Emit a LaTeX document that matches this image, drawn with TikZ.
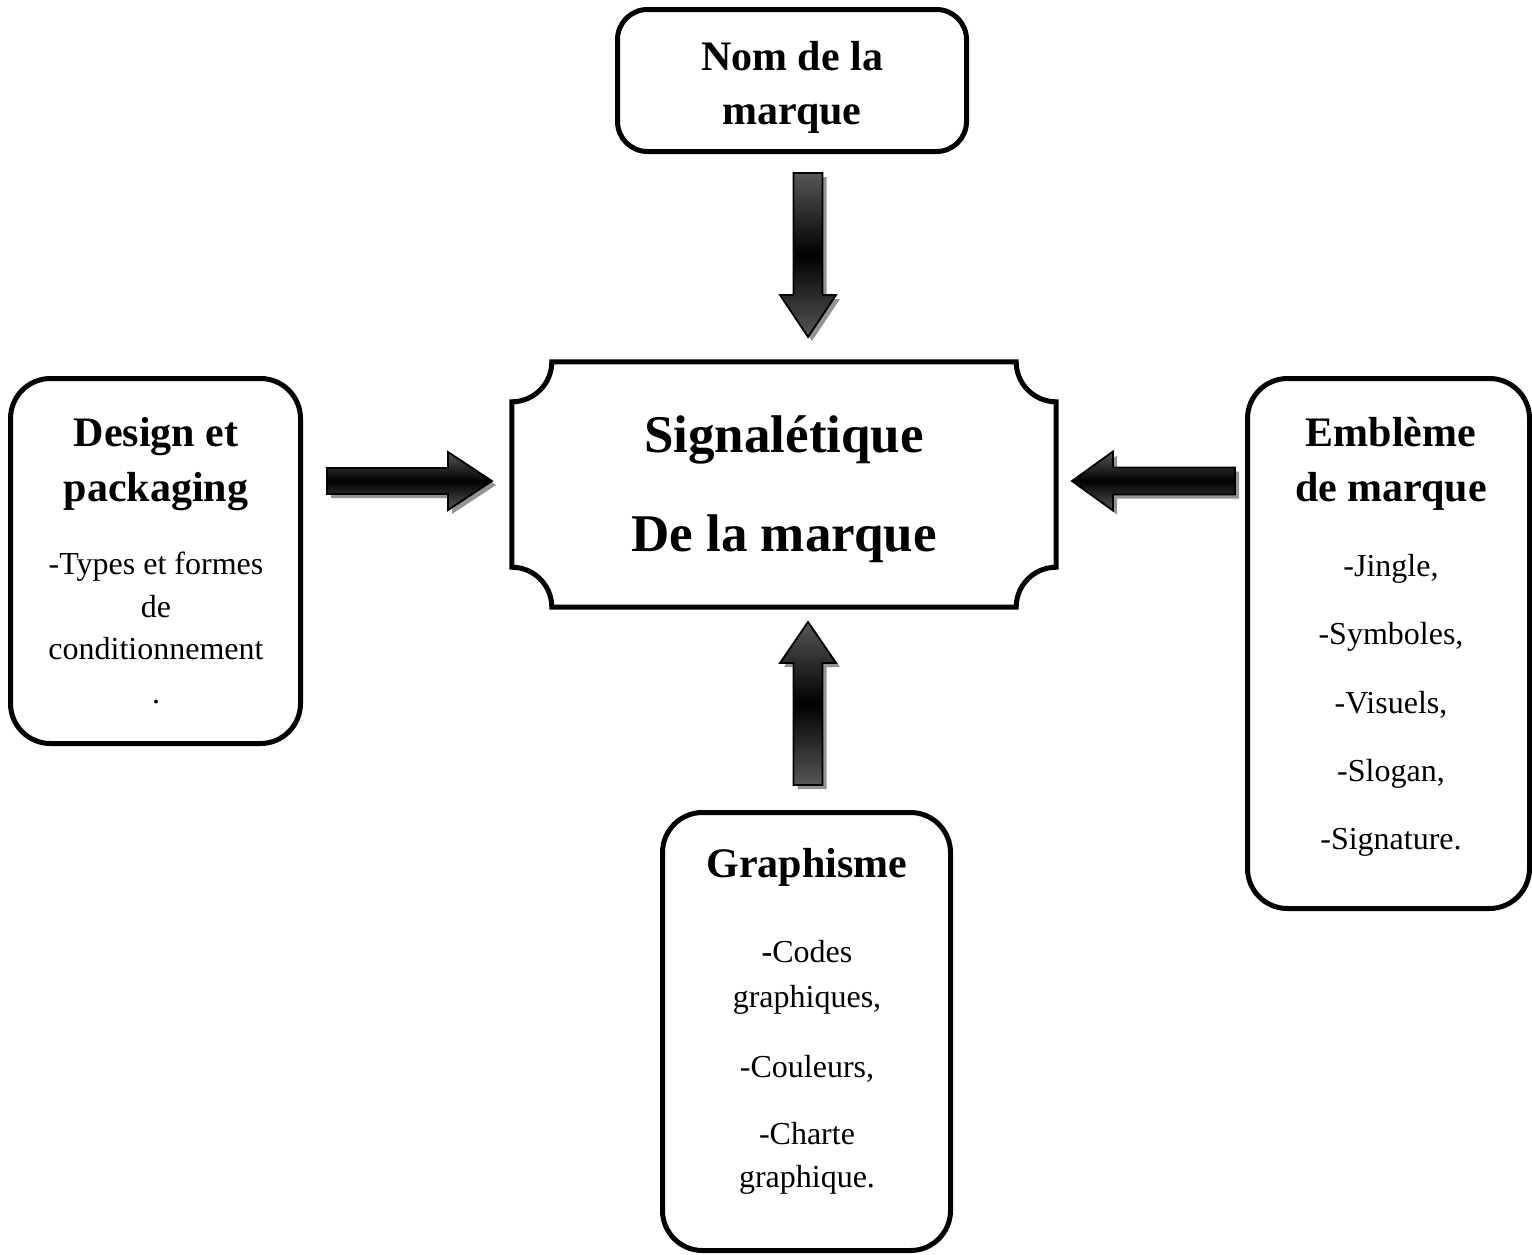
\documentclass[tikz,border=0pt]{standalone}
\usepackage{fontspec}
\setmainfont{Liberation Serif}
\usetikzlibrary{calc,shadows}
\begin{document}
\begin{tikzpicture}[x=1pt,y=-1pt,
 box/.style={draw=black, line width=5pt, rounded corners=40pt, inner sep=0pt},
 plaque/.style={draw=black, line width=5pt, line join=miter},
 head/.style={font=\fontsize{42}{50}\selectfont\bfseries, anchor=base, inner sep=0pt},
 big/.style={font=\fontsize{53}{60}\selectfont\bfseries, anchor=base, inner sep=0pt},
 body/.style={font=\fontsize{32}{38}\selectfont, anchor=base, inner sep=0pt},
 blockarrow/.style={draw=black, line width=1.8pt, line join=miter,
   top color=black!66, bottom color=black!66, middle color=black,
   drop shadow={shadow xshift=4pt, shadow yshift=-4pt, fill=black!42, opacity=1}}
]
\useasboundingbox (0,0) rectangle (1532,1254);

% boxes
\node[box, rounded corners=30pt, minimum width=349pt, minimum height=142pt] (nom) at (792,80.5) {};
\node[box, minimum width=290pt, minimum height=365pt] (des) at (155.5,561) {};
\node[box, minimum width=282pt, minimum height=530pt] (emb) at (1388.5,643.5) {};
\node[box, minimum width=288pt, minimum height=438pt] (gra) at (806.5,1031.5) {};
\node[minimum width=544pt, minimum height=245pt, inner sep=0pt] (sig) at (784,484.5) {};

% central plaque with concave corners
\draw[plaque] ($(sig.north west)+(40,0)$) -- ($(sig.north east)+(-40,0)$)
  arc[start angle=180, end angle=90, radius=40]
  -- ($(sig.south east)+(0,-40)$)
  arc[start angle=270, end angle=180, radius=40]
  -- ($(sig.south west)+(40,0)$)
  arc[start angle=0, end angle=-90, radius=40]
  -- ($(sig.north west)+(0,40)$)
  arc[start angle=90, end angle=0, radius=40]
  -- cycle;

% texts
\node[head] (nom1) at (792,70) {Nom de la};
\node[head] (nom2) at (792,124) {marque};

\node[big] (sig1) at (784,452) {Signalétique};
\node[big] (sig2) at (784,551) {De la marque};

\node[head] (des1) at (156,446) {Design et};
\node[head] (des2) at (156,501) {packaging};
\node[body] (des3) at (156,574) {-Types et formes};
\node[body] (des4) at (156,617) {de};
\node[body] (des5) at (156,659) {conditionnement};
\node[body] (des6) at (156,703) {.};

\node[head] (emb1) at (1391,446) {Emblème};
\node[head] (emb2) at (1391,501) {de marque};
\node[body] (emb3) at (1391,576) {-Jingle,};
\node[body] (emb4) at (1391,644) {-Symboles,};
\node[body] (emb5) at (1391,713) {-Visuels,};
\node[body] (emb6) at (1391,781) {-Slogan,};
\node[body] (emb7) at (1391,849) {-Signature.};

\node[head] (gra1) at (807,877) {Graphisme};
\node[body] (gra2) at (807,962) {{\bfseries -}Codes};
\node[body] (gra3) at (807,1007) {graphiques,};
\node[body] (gra4) at (807,1077) {-Couleurs,};
\node[body] (gra5) at (807,1144) {-Charte};
\node[body] (gra6) at (807,1187) {graphique.};

% block arrows
\coordinate (a1s) at (808,173);
\coordinate (a1e) at (808,337);
\path[blockarrow] ($(a1s)+(-14.5,0)$) -- ($(a1s)+(14.5,0)$) -- ($(a1e)+(14.5,-42)$)
  -- ($(a1e)+(28,-42)$) -- (a1e) -- ($(a1e)+(-28,-42)$) -- ($(a1e)+(-14.5,-42)$) -- cycle;

\coordinate (a2s) at (808,785);
\coordinate (a2e) at (808,622);
\path[blockarrow] ($(a2s)+(-14.5,0)$) -- ($(a2s)+(14.5,0)$) -- ($(a2e)+(14.5,41)$)
  -- ($(a2e)+(28,41)$) -- (a2e) -- ($(a2e)+(-28,41)$) -- ($(a2e)+(-14.5,41)$) -- cycle;

\coordinate (a3s) at (327,481);
\coordinate (a3e) at (492,481);
\path[blockarrow] ($(a3s)+(0,-13)$) -- ($(a3e)+(-44,-13)$) -- ($(a3e)+(-44,-29)$)
  -- (a3e) -- ($(a3e)+(-44,29)$) -- ($(a3e)+(-44,13)$) -- ($(a3s)+(0,13)$) -- cycle;

\coordinate (a4s) at (1235,481);
\coordinate (a4e) at (1072,481);
\path[blockarrow] ($(a4s)+(0,-13.5)$) -- ($(a4e)+(41,-13.5)$) -- ($(a4e)+(41,-29.5)$)
  -- (a4e) -- ($(a4e)+(41,29.5)$) -- ($(a4e)+(41,13.5)$) -- ($(a4s)+(0,13.5)$) -- cycle;
\end{tikzpicture}
\end{document}
